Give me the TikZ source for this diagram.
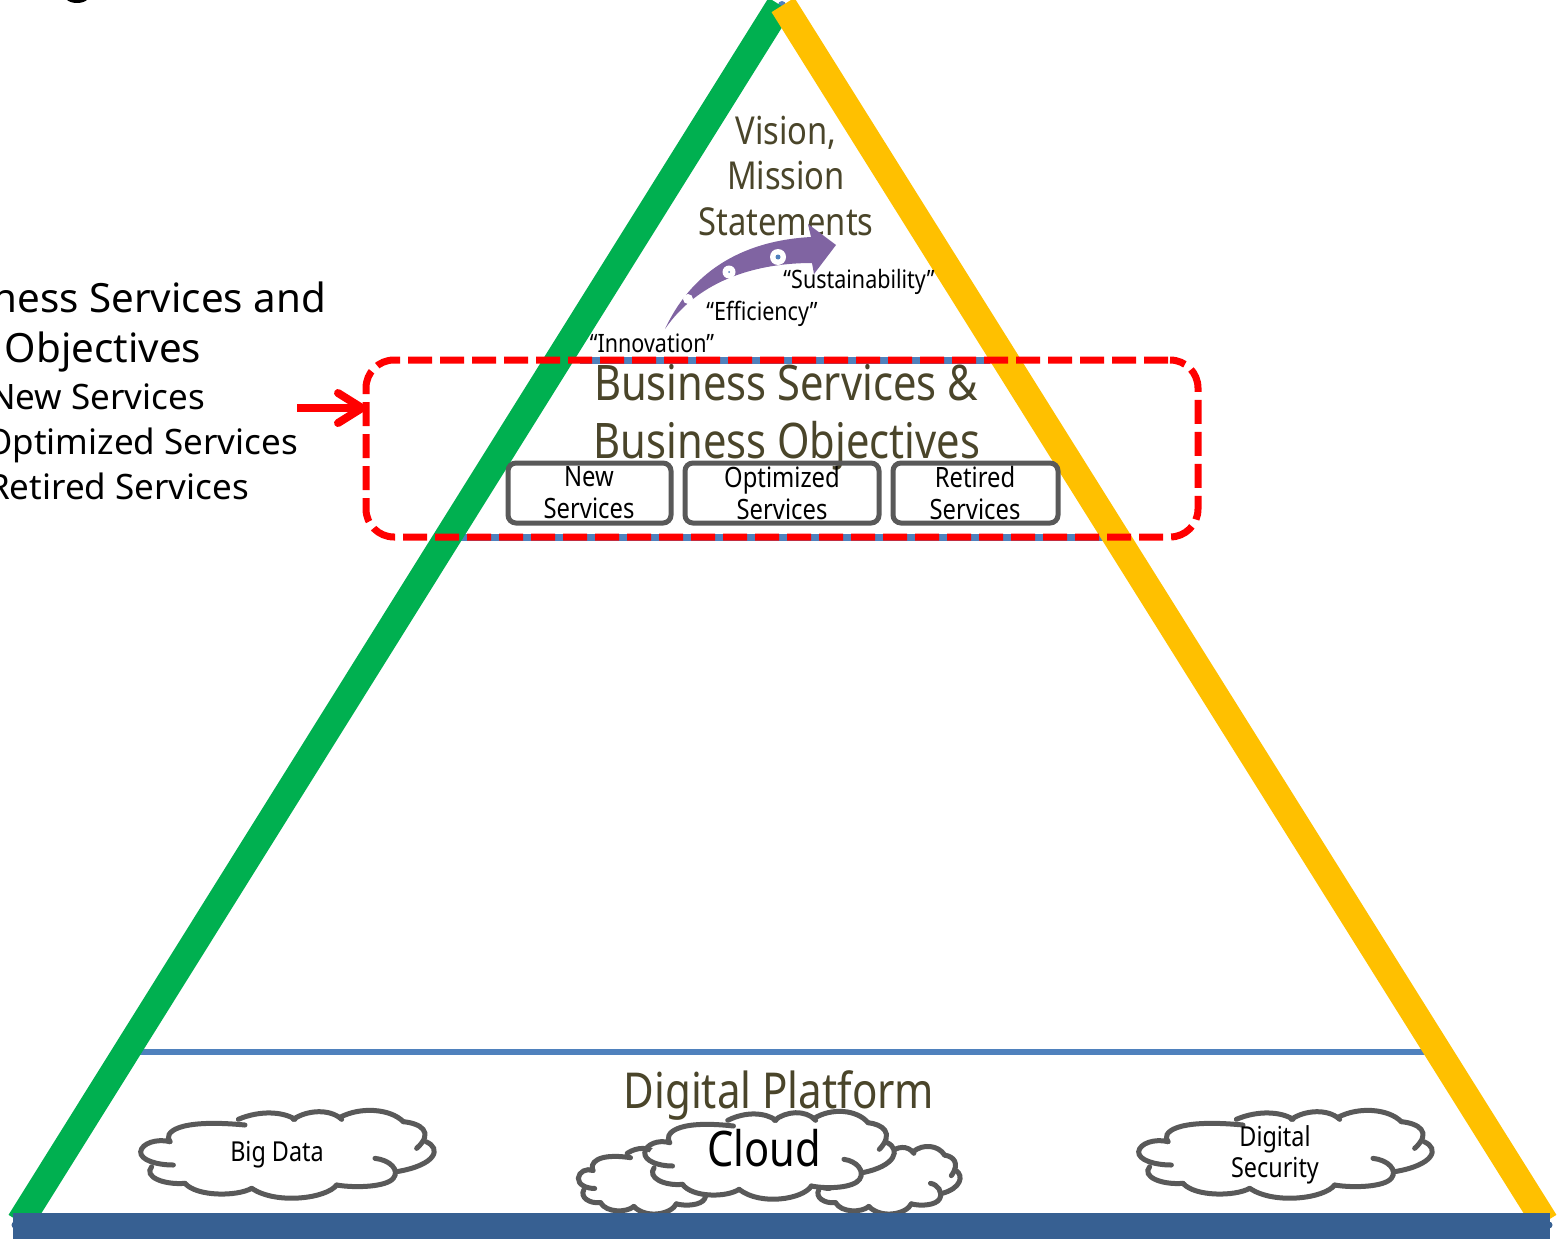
\documentclass[tikz,border=0pt]{standalone}
\usepackage{fontspec}
\setmainfont{Noto Sans}
\newfontfamily\narrowfont[FakeStretch=.85]{Noto Sans}
\usetikzlibrary{arrows.meta}

\definecolor{olivetext}{HTML}{4A452A}
\definecolor{greenside}{HTML}{00B050}
\definecolor{yellowside}{HTML}{FFC000}
\definecolor{baseblue}{HTML}{376092}
\definecolor{lineblue}{HTML}{4F81BD}
\definecolor{arrowpurple}{HTML}{8064A2}
\definecolor{shapegray}{HTML}{595959}

\tikzset{
  headtext/.style={text=olivetext,font=\narrowfont\fontsize{#1}{#1}\selectfont},
  labeltext/.style={text=black,font=\narrowfont\fontsize{#1}{#1}\selectfont},
  plaintext/.style={text=black,font=\fontsize{#1}{#1}\selectfont},
  servicebox/.style={draw=shapegray,line width=5pt,rounded corners=8pt,minimum height=60pt},
  cloudshape/.pic={
    \begin{scope}[scale=1/3,shift={(-504,-192)},draw=shapegray,line width=5pt,line cap=round]
      % white body first
      \fill[white] (150,155) .. controls (130,130) and (165,85) .. (360,100)
        .. controls (420,60) and (490,65) .. (525,85)
        .. controls (560,60) and (630,55) .. (665,85)
        .. controls (720,50) and (810,55) .. (850,95)
        .. controls (900,100) and (935,125) .. (920,155)
        .. controls (960,175) and (950,225) .. (830,245)
        .. controls (800,290) and (710,295) .. (650,285)
        .. controls (620,325) and (470,345) .. (395,295)
        .. controls (350,320) and (230,320) .. (195,280)
        .. controls (130,285) and (70,260) .. (95,230)
        .. controls (60,210) and (65,160) .. (150,155) -- cycle;
      % Lobes
      \draw (150,155) .. controls (130,130) and (165,85) .. (375,105);
      \draw (355,88) .. controls (420,60) and (490,65) .. (525,88);
      \draw (520,88) .. controls (560,60) and (630,55) .. (665,88);
      \draw (660,82) .. controls (720,50) and (810,55) .. (850,95);
      \draw (850,95) .. controls (900,100) and (945,125) .. (890,175);
      \draw (918,155) .. controls (965,175) and (950,225) .. (830,245);
      \draw (765,205) .. controls (810,210) and (840,240) .. (820,265) .. controls (800,290) and (710,295) .. (650,285);
      \draw (650,285) .. controls (620,325) and (470,345) .. (395,295);
      \draw (395,295) .. controls (350,320) and (230,320) .. (195,280);
      \draw (195,280) .. controls (130,285) and (70,260) .. (95,230);
      \draw (160,225) .. controls (110,225) and (60,210) .. (62,185) .. controls (65,160) and (110,145) .. (150,155);
    \end{scope}
  }
}

\begin{document}
\begin{tikzpicture}[x=1pt,y=-1pt,inner sep=0,outer sep=0]

    \useasboundingbox (0,0) rectangle (1558,1239);
    \clip (0,0) rectangle (1558,1239);

    % Heading cut off by the top edge
    \fill[black] (67,0) .. controls (72,4) and (82,4) .. (87,0) -- cycle;

    % Blue bands
    \draw[lineblue,line width=7pt] (580,360) -- (990,360);
    \draw[lineblue,line width=7pt] (460,537) -- (1110,537);
    \draw[lineblue,line width=6pt] (138,1052) -- (1425,1052);
    \fill[lineblue] (782,5) circle (4);
    \fill[baseblue] (15,1225) circle (3.5);
    \fill[baseblue] (1549,1225) circle (3.5);

    % Sides of the triangle
    \draw[greenside,line width=27pt] (20,1222) -- (780,5);
    \draw[yellowside,line width=27pt] (783,5) -- (1545,1222);

    % Clouds behind the middle one
    \pic[xscale=.5,yscale=.77] at (652,1180) {cloudshape};
    \pic[xscale=.5,yscale=.77] at (887,1180) {cloudshape};

    % The base
    \fill[baseblue] (13,1213) rectangle (1550,1239);

    % Clouds
    \pic at (288,1154) {cloudshape};
    \pic at (1286,1154) {cloudshape};
    \pic[xscale=.85] at (770,1155) {cloudshape};
    \node[labeltext=27.5] (bigdata) at (277,1155) {Big Data};
    \node[labeltext=27.5,align=center] (security) at (1275,1155) {Digital\\[4pt]Security};
    \node[labeltext=49] (cloud) at (764,1148) {Cloud};

    % Headings
    \node[headtext=38.5,align=center] (vision) at (786,176) {Vision,\\[7pt]Mission\\[7pt]Statements};
    \node[headtext=49] (services) at (786,383) {Business Services \&};
    \node[headtext=49] (objectives) at (787,446) {Business Objectives};
    \node[headtext=49.5] (platform) at (779,1095) {Digital Platform};

    % The bent arrow
    \fill[arrowpurple] (665,329) .. controls (690,275) and (738,241) .. (811,237)
      -- (808,224) -- (836,245) -- (814,274) -- (812,263)
      .. controls (760,263) and (700,278) .. (665,329) -- cycle;
    \node[fill=white,circle,minimum size=10pt] (dota) at (688,299) {};
    \node[fill=white,circle,minimum size=13pt] (dotb) at (729,272) {};
    \node[fill=white,circle,minimum size=16pt] (dotc) at (778,257) {};
    \node[fill=lineblue,circle,minimum size=2pt] at (dotb) {};
    \node[fill=lineblue,circle,minimum size=5pt] at (dotc) {};
    \node[labeltext=25.3] (innovation) at (652,343) {“Innovation”};
    \node[labeltext=25.3] (efficiency) at (762,314) {“Efficiency”};
    \node[labeltext=25.3] (sustain) at (859,282) {“Sustainability”};

    % Service boxes
    \node[servicebox,minimum width=163pt] (newbox) at (589.5,493) {};
    \node[servicebox,minimum width=194pt] (optbox) at (782,493) {};
    \node[servicebox,minimum width=165pt] (retbox) at (975.5,493) {};
    \node[labeltext=28,align=center] (newtext) at (589,493) {New\\[4pt]Services};
    \node[labeltext=28,align=center] (opttext) at (782,493) {Optimized\\[4pt]Services};
    \node[labeltext=28,align=center] (rettext) at (975,493) {Retired\\[4pt]Services};

    % Dashed frame
    \node[draw=red,line width=7pt,dash pattern=on 24pt off 8pt,dash phase=30pt,rounded corners=28pt,minimum width=832pt,minimum height=177pt] (frame) at (782,448.5) {};

    % Text on the left
    \node[plaintext=40.3,anchor=east] (lefta) at (326,297) {Business Services and};
    \node[plaintext=40.3,anchor=west] (leftb) at (5,352) {Objectives};
    \node[plaintext=35,anchor=east] (leftc) at (205,397) {New Services};
    \node[plaintext=35,anchor=east] (leftd) at (298,445) {Optimized Services};
    \node[plaintext=35,anchor=east] (lefte) at (249,486) {Retired Services};

    % Arrow into the frame
    \coordinate (arrowstart) at (297,408);
    \draw[red,line width=8pt,-{Straight Barb[length=24pt,width=30pt,round]}] (arrowstart) -- (frame.west |- arrowstart);

\end{tikzpicture}
\end{document}
